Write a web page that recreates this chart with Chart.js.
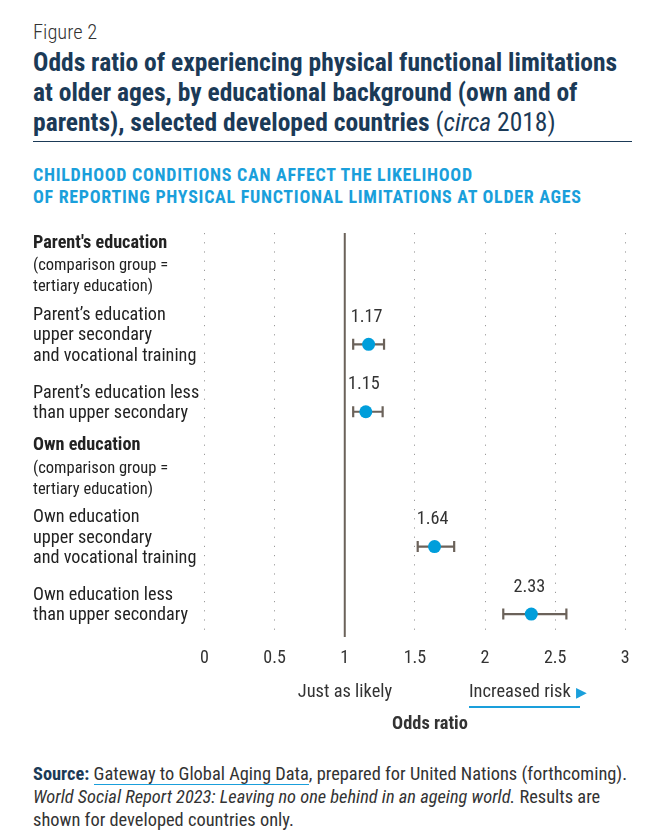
<!DOCTYPE html>
<html>
<head>
<meta charset="utf-8">
<script src="https://cdn.jsdelivr.net/npm/chart.js@4"></script>
<style>
  body { margin: 0; width: 658px; height: 832px; background: #fff; position: relative; overflow: hidden;
         font-family: "Roboto Condensed", "Liberation Sans Narrow", Roboto, sans-serif; color: #333; }
  .abs { position: absolute; white-space: nowrap; }
  #chartBox { position: absolute; left: 0; top: 0; width: 658px; height: 700px; }
</style>
</head>
<body>
<div class="abs" style="left:33px;top:20px;font-size:20.5px;font-weight:300;">Figure 2</div>
<div class="abs" style="left:33px;top:47px;font-size:25.5px;line-height:30px;font-weight:700;color:#1b3a57;">Odds ratio of experiencing physical functional limitations<br>at older ages, by educational background (own and of<br>parents), selected developed countries <span style="font-weight:400">(<i>circa</i> 2018)</span></div>
<div class="abs" style="left:33px;top:141px;width:599px;height:1px;background:#1b3a57;"></div>
<div class="abs" style="left:33px;top:164px;font-size:18px;line-height:22px;font-weight:700;color:#1a9fdb;letter-spacing:0.7px;">CHILDHOOD CONDITIONS CAN AFFECT THE LIKELIHOOD<br>OF REPORTING PHYSICAL FUNCTIONAL LIMITATIONS AT OLDER AGES</div>

<div id="chartBox"><canvas id="oddsChart" width="658" height="700"></canvas></div>

<div class="abs" style="left:225px;top:680px;width:240px;text-align:center;font-size:18.4px;">Just as likely</div>
<div class="abs" style="left:469px;top:680px;font-size:18.4px;">Increased risk<span style="color:#1a9fdb;font-size:14px;margin-left:5px;">&#9654;</span></div>
<div class="abs" style="left:469px;top:706px;width:111px;height:1.5px;background:#1a9fdb;"></div>
<div class="abs" style="left:310px;top:712px;width:240px;text-align:center;font-size:18.4px;font-weight:700;">Odds ratio</div>

<div class="abs" style="left:33px;top:762px;font-size:18.4px;line-height:23px;"><b style="color:#1b3a57">Source:</b> <span style="border-bottom:1.5px solid #1a9fdb">Gateway to Global Aging Data</span>, prepared for United Nations (forthcoming).<br><i>World Social Report 2023: Leaving no one behind in an ageing world.</i> Results are<br>shown for developed countries only.</div>

<script>
// rows top to bottom, headers have no value
const rowLabels = [
  ["Parent's education", "(comparison group =", "tertiary education)"],
  ["Parent\u2019s education", "upper secondary", "and vocational training"],
  ["Parent\u2019s education less", "than upper secondary"],
  ["Own education", "(comparison group =", "tertiary education)"],
  ["Own education", "upper secondary", "and vocational training"],
  ["Own education less", "than upper secondary"]
];
const rowIsHeader = [true, false, false, true, false, false];
const oddsRatio = [null, 1.17, 1.15, null, 1.64, 2.33];
const ciLow = [null, 1.06, 1.06, null, 1.52, 2.13];
const ciHigh = [null, 1.28, 1.27, null, 1.78, 2.58];
const xTicks = [0, 0.5, 1, 1.5, 2, 2.5, 3];
const refValue = 1;

const FONT = '"Roboto Condensed", "Liberation Sans Narrow", Roboto, sans-serif';
const barColor = '#6b625a';
const dotColor = '#009edb';

let pointData = [];
let barData = [];
rowLabels.forEach((lab, i) => {
  if (oddsRatio[i] == null) return;
  pointData.push({x: oddsRatio[i], y: i});
  barData.push({x: ciLow[i], y: i});
  barData.push({x: ciHigh[i], y: i});
  barData.push({x: null, y: null});
});

const overlay = {
  id: 'overlay',
  beforeDatasetsDraw(chart) {
    const ctx = chart.ctx, xs = chart.scales.x, area = chart.chartArea;
    const px = xs.getPixelForValue(refValue);
    ctx.save();
    ctx.strokeStyle = barColor;
    ctx.lineWidth = 2;
    ctx.beginPath();
    ctx.moveTo(px, area.top);
    ctx.lineTo(px, area.bottom);
    ctx.stroke();
    ctx.restore();
  },
  afterDatasetsDraw(chart) {
    const ctx = chart.ctx, xs = chart.scales.x, ys = chart.scales.y;
    ctx.save();
    ctx.textBaseline = 'middle';
    // left row labels
    ctx.textAlign = 'left';
    ctx.fillStyle = '#222';
    rowLabels.forEach((lines, i) => {
      const c = ys.getPixelForValue(i) - 8.5;
      const offs = rowIsHeader[i] ? [0, 23, 44] : [0, 20.5, 41];
      const last = offs[lines.length - 1];
      const top = c - last / 2 - (rowIsHeader[i] ? 3 : 0);
      lines.forEach((t, j) => {
        if (rowIsHeader[i]) {
          ctx.font = j == 0 ? 'bold 18.2px ' + FONT : '16.5px ' + FONT;
        } else {
          ctx.font = '18.2px ' + FONT;
        }
        ctx.fillText(t, 33, top + offs[j]);
      });
    });
    // value labels above points
    ctx.textAlign = 'center';
    ctx.fillStyle = '#333';
    ctx.font = '18.2px ' + FONT;
    rowLabels.forEach((lab, i) => {
      if (oddsRatio[i] == null) return;
      ctx.fillText(oddsRatio[i].toFixed(2), xs.getPixelForValue(oddsRatio[i]) - 2, ys.getPixelForValue(i) - 27);
    });
    ctx.restore();
  }
};

new Chart("oddsChart", {
  data: {
    datasets: [
      {
        type: 'scatter',
        data: pointData,
        pointRadius: 6.5,
        pointHoverRadius: 6.5,
        backgroundColor: dotColor,
        borderWidth: 0,
        order: 1,
      },
      {
        type: 'line',
        data: barData,
        spanGaps: false,
        borderColor: barColor,
        borderWidth: 2.2,
        pointStyle: 'line',
        pointRotation: 90,
        pointRadius: 5.5,
        pointHoverRadius: 5.5,
        pointBorderColor: barColor,
        pointBorderWidth: 2.2,
        fill: false,
        order: 2,
      }
    ]
  },
  plugins: [overlay],
  options: {
    responsive: false,
    animation: false,
    events: [],
    layout: {
      padding: { left: 204.5, right: 32.7, top: 233, bottom: 23 }
    },
    plugins: {
      legend: { display: false },
      tooltip: { enabled: false },
    },
    scales: {
      x: {
        type: 'linear',
        min: xTicks[0],
        max: xTicks[xTicks.length - 1],
        afterBuildTicks: (scale) => { scale.ticks = xTicks.map(v => ({value: v})); },
        afterFit: (scale) => { scale.height = 40; },
        grid: {
          drawTicks: false,
          color: (c) => c.tick && c.tick.value === refValue ? 'rgba(0,0,0,0)' : '#9a9a9a',
          lineWidth: 1,
        },
        border: { display: false, dash: [1.2, 8] },
        ticks: {
          padding: 11,
          color: '#333',
          font: { family: FONT, size: 18 },
          callback: (v) => String(v),
        },
      },
      y: {
        type: 'linear',
        reverse: true,
        min: -0.65,
        max: 5.34,
        display: false,
      }
    }
  }
});
</script>
</body>
</html>
